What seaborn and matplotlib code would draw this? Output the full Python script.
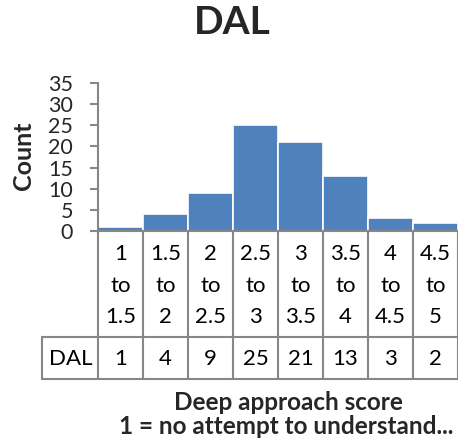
import matplotlib
matplotlib.use("Agg")
import matplotlib.pyplot as plt
import matplotlib.transforms as mtransforms
from matplotlib.lines import Line2D
import seaborn as sns
import pandas as pd

# ---- data ----
categories = ["1 to 1.5", "1.5 to 2", "2 to 2.5", "2.5 to 3",
              "3 to 3.5", "3.5 to 4", "4 to 4.5", "4.5 to 5"]
counts = [1, 4, 9, 25, 21, 13, 3, 2]
series_name = "DAL"
title = "DAL"
y_label = "Count"
x_label_lines = ["Deep approach score", "1 = no attempt to understand..."]
y_ticks = [0, 5, 10, 15, 20, 25, 30, 35]

sns.set_style("white")
plt.rcParams['font.family'] = ['Lato', 'DejaVu Sans']

W, H = 458, 446
fig = plt.figure(figsize=(W / 100, H / 100), dpi=100)


def fx(px):
    return px / W


def fy(py):
    return 1 - py / H


GRAY = "#878787"
BLUE = "#4F81BD"

ax = fig.add_axes([fx(98), fy(231), fx(458) - fx(98), fy(83) - fy(231)])
df = pd.DataFrame({"cat": categories, "count": counts})
sns.barplot(data=df, x="cat", y="count", color=BLUE, saturation=1,
            width=1.0, edgecolor="white", linewidth=1.2, ax=ax)
ax.set_xlim(-0.5, len(categories) - 0.5)
ax.set_ylim(0, 35)
ax.set_yticks(y_ticks)
ax.set_xticks([])
ax.set_xlabel("")
ax.set_ylabel("")
for s in ["top", "right"]:
    ax.spines[s].set_visible(False)
for s in ["left", "bottom"]:
    ax.spines[s].set_color(GRAY)
    ax.spines[s].set_linewidth(1.5)
ax.tick_params(axis="y", left=True, length=6, width=1.5, color=GRAY,
               labelsize=15.5, pad=12, direction="out")

# ---- data table below the axis ----
bt = mtransforms.blended_transform_factory(ax.transData, fig.transFigure)
n = len(categories)
for i in range(n + 1):
    xb = i - 0.5
    ax.add_line(Line2D([xb, xb], [fy(231), fy(379)], transform=bt,
                       color=GRAY, lw=1.5, clip_on=False))
for yp in (337, 379):
    fig.add_artist(Line2D([fx(42), fx(458)], [fy(yp), fy(yp)],
                          transform=fig.transFigure, color=GRAY, lw=1.5))
fig.add_artist(Line2D([fx(42), fx(42)], [fy(337), fy(379)],
                      transform=fig.transFigure, color=GRAY, lw=1.5))

for i, cat in enumerate(categories):
    parts = cat.split(" ")
    for j, part in enumerate(parts):
        ax.text(i, fy(254 + 31.5 * j), part, transform=bt, ha="center",
                va="center", fontsize=16, color="black")
    ax.text(i, fy(359), str(counts[i]), transform=bt, ha="center",
            va="center", fontsize=16, color="black")
fig.text(fx(71), fy(359), series_name, ha="center", va="center",
         fontsize=16, color="black")

# ---- titles ----
fig.text(fx(232), fy(22), title, ha="center", va="center",
         fontsize=28, fontweight="bold")
fig.text(fx(24), fy(156), y_label, ha="center", va="center",
         rotation=90, fontsize=18, fontweight="bold")
fig.text(fx(288), fy(402), x_label_lines[0], ha="center", va="center",
         fontsize=17.5, fontweight="bold")
fig.text(fx(286), fy(426), x_label_lines[1], ha="center", va="center",
         fontsize=17.5, fontweight="bold")

fig.savefig("out.png", dpi=100)
